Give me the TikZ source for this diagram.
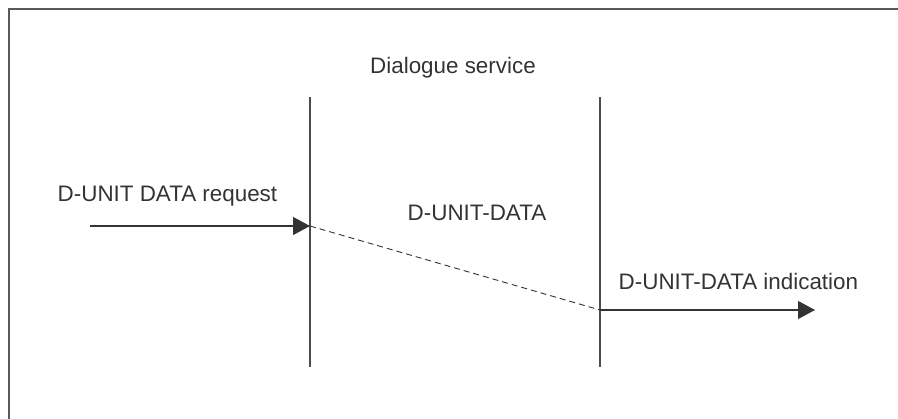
\documentclass[tikz,border=0pt]{standalone}
\usepackage{fontspec}
\setmainfont{Liberation Sans}
\usetikzlibrary{arrows.meta}
\tikzset{
  lbl/.style={inner sep=0pt, anchor=base west, text=black!80, font=\fontsize{22.4}{26}\selectfont},
  rail/.style={draw=black!70, line width=1.1pt},
  msg/.style={draw=black!80, line width=1.1pt, -{Triangle[length=17pt,width=18pt]}},
  flow/.style={draw=black!80, line width=0.9pt, dash pattern=on 6pt off 4pt},
  frame/.style={draw=black!65, line width=1.4pt}
}
\begin{document}
\begin{tikzpicture}[x=1pt,y=-1pt]
  \useasboundingbox (0,0) rectangle (898,419);
  % outer frame (only the top and left edges fall inside the page)
  \draw[frame] (9,425) -- (9,9) -- (905,9);

  % service boundaries
  \coordinate (l1top) at (310,97);
  \coordinate (l1bot) at (310,367);
  \coordinate (l2top) at (600,97);
  \coordinate (l2bot) at (600,367);
  \draw[rail] (l1top) -- (l1bot);
  \draw[rail] (l2top) -- (l2bot);

  % labels
  \node[lbl] (title) at (370,73.5) {Dialogue service};
  \node[lbl] (req) at (57.5,202) {D-UNIT DATA request};
  \node[lbl] (mid) at (407.5,221) {D-UNIT-DATA};
  \node[lbl] (ind) at (618.5,290) {D-UNIT-DATA indication};

  % primitives
  \coordinate (reqstart) at (90,226);
  \coordinate (a1) at (310,226);
  \coordinate (b1) at (600,310);
  \coordinate (indend) at (815,310);
  \draw[msg] (reqstart) -- (a1);
  \draw[flow] (a1) -- (b1);
  \draw[msg] (b1) -- (indend);
\end{tikzpicture}
\end{document}
